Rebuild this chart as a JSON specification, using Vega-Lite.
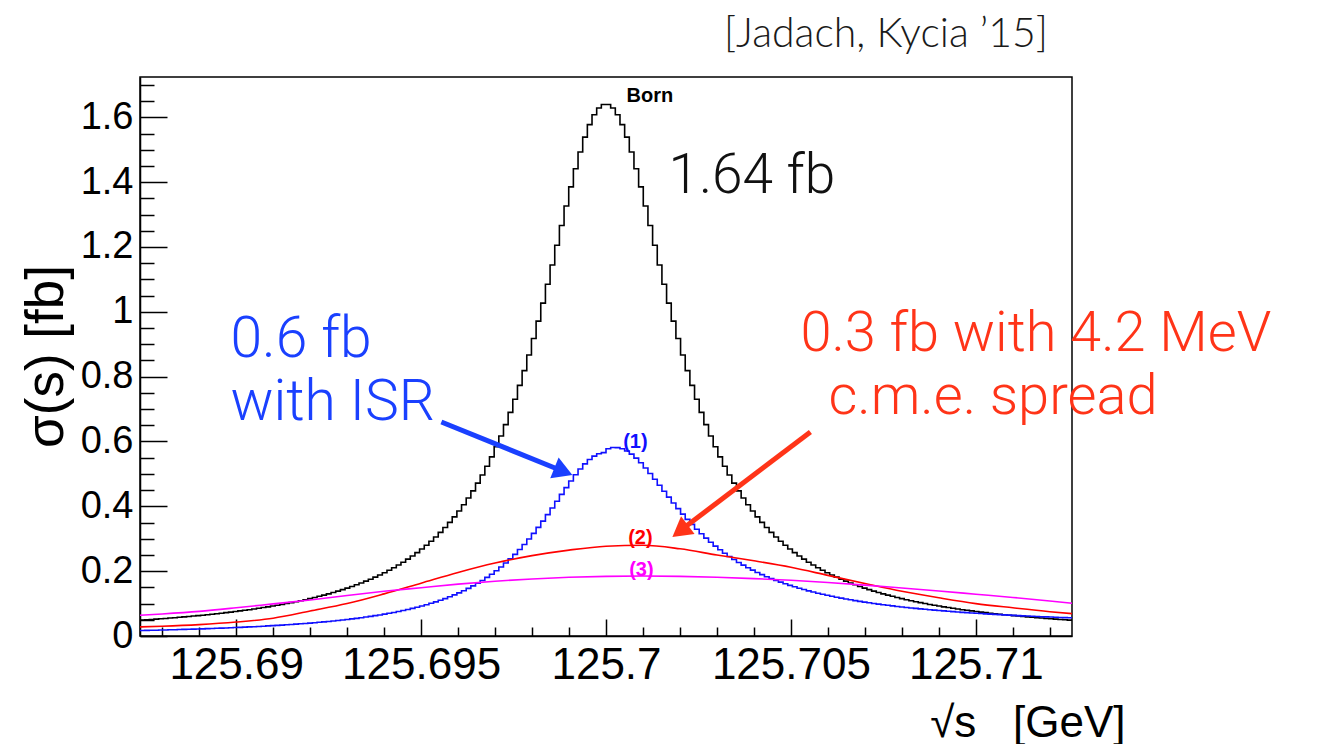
{
"$schema": "https://vega.github.io/schema/vega-lite/v6.json",
"width": 932, "height": 559,
"autosize": {"type": "none"},
"padding": {"left": 140, "top": 77, "right": 251, "bottom": 108},
"background": "white",
"title": {"text": "[Jadach, Kycia ’15]", "anchor": "end", "frame": "group", "font": "Lato", "fontSize": 41, "fontWeight": 300, "color": "#1a1a1a", "baseline": "alphabetic", "offset": 25, "dx": -24, "dy": 47},
"config": {"view": {"stroke": "black", "strokeWidth": 1.5}},
"datasets": {
"hist": [
{"x":125.6874,"b":0.0490,"i":0.0169},{"x":125.687526,"b":0.0500,"i":0.0173},{"x":125.687652,"b":0.0510,"i":0.0176},{"x":125.687778,"b":0.0520,"i":0.0179},{"x":125.687904,"b":0.0531,"i":0.0183},{"x":125.68803,"b":0.0542,"i":0.0187},{"x":125.688156,"b":0.0553,"i":0.0191},{"x":125.688282,"b":0.0565,"i":0.0195},{"x":125.688408,"b":0.0577,"i":0.0199},{"x":125.688534,"b":0.0589,"i":0.0203},
{"x":125.68866,"b":0.0602,"i":0.0208},{"x":125.688786,"b":0.0615,"i":0.0212},{"x":125.688912,"b":0.0628,"i":0.0217},{"x":125.689038,"b":0.0642,"i":0.0221},{"x":125.689164,"b":0.0657,"i":0.0227},{"x":125.68929,"b":0.0672,"i":0.0232},{"x":125.689416,"b":0.0687,"i":0.0237},{"x":125.689542,"b":0.0704,"i":0.0243},{"x":125.689668,"b":0.0720,"i":0.0248},{"x":125.689794,"b":0.0737,"i":0.0254},
{"x":125.68992,"b":0.0755,"i":0.0260},{"x":125.690046,"b":0.0774,"i":0.0267},{"x":125.690172,"b":0.0793,"i":0.0274},{"x":125.690298,"b":0.0812,"i":0.0280},{"x":125.690424,"b":0.0833,"i":0.0287},{"x":125.69055,"b":0.0854,"i":0.0295},{"x":125.690676,"b":0.0877,"i":0.0303},{"x":125.690802,"b":0.0900,"i":0.0311},{"x":125.690928,"b":0.0924,"i":0.0319},{"x":125.691054,"b":0.0948,"i":0.0327},
{"x":125.69118,"b":0.0974,"i":0.0336},{"x":125.691306,"b":0.1001,"i":0.0345},{"x":125.691432,"b":0.1029,"i":0.0355},{"x":125.691558,"b":0.1058,"i":0.0365},{"x":125.691684,"b":0.1089,"i":0.0376},{"x":125.69181,"b":0.1120,"i":0.0386},{"x":125.691936,"b":0.1153,"i":0.0398},{"x":125.692062,"b":0.1188,"i":0.0410},{"x":125.692188,"b":0.1224,"i":0.0422},{"x":125.692314,"b":0.1262,"i":0.0435},
{"x":125.69244,"b":0.1301,"i":0.0449},{"x":125.692566,"b":0.1342,"i":0.0463},{"x":125.692692,"b":0.1385,"i":0.0478},{"x":125.692818,"b":0.1431,"i":0.0494},{"x":125.692944,"b":0.1478,"i":0.0510},{"x":125.69307,"b":0.1528,"i":0.0527},{"x":125.693196,"b":0.1580,"i":0.0545},{"x":125.693322,"b":0.1634,"i":0.0564},{"x":125.693448,"b":0.1692,"i":0.0584},{"x":125.693574,"b":0.1752,"i":0.0604},
{"x":125.6937,"b":0.1816,"i":0.0627},{"x":125.693826,"b":0.1883,"i":0.0650},{"x":125.693952,"b":0.1953,"i":0.0674},{"x":125.694078,"b":0.2028,"i":0.0700},{"x":125.694204,"b":0.2106,"i":0.0727},{"x":125.69433,"b":0.2189,"i":0.0755},{"x":125.694456,"b":0.2277,"i":0.0786},{"x":125.694582,"b":0.2370,"i":0.0818},{"x":125.694708,"b":0.2468,"i":0.0851},{"x":125.694834,"b":0.2572,"i":0.0887},
{"x":125.69496,"b":0.2682,"i":0.0925},{"x":125.695086,"b":0.2799,"i":0.0966},{"x":125.695212,"b":0.2924,"i":0.1009},{"x":125.695338,"b":0.3056,"i":0.1054},{"x":125.695464,"b":0.3196,"i":0.1103},{"x":125.69559,"b":0.3346,"i":0.1154},{"x":125.695716,"b":0.3506,"i":0.1210},{"x":125.695842,"b":0.3675,"i":0.1268},{"x":125.695968,"b":0.3857,"i":0.1331},{"x":125.696094,"b":0.4050,"i":0.1397},
{"x":125.69622,"b":0.4257,"i":0.1469},{"x":125.696346,"b":0.4478,"i":0.1545},{"x":125.696472,"b":0.4715,"i":0.1627},{"x":125.696598,"b":0.4967,"i":0.1714},{"x":125.696724,"b":0.5238,"i":0.1807},{"x":125.69685,"b":0.5527,"i":0.1907},{"x":125.696976,"b":0.5837,"i":0.2014},{"x":125.697102,"b":0.6168,"i":0.2128},{"x":125.697228,"b":0.6522,"i":0.2250},{"x":125.697354,"b":0.6899,"i":0.2380},
{"x":125.69748,"b":0.7302,"i":0.2519},{"x":125.697606,"b":0.7731,"i":0.2667},{"x":125.697732,"b":0.8186,"i":0.2824},{"x":125.697858,"b":0.8669,"i":0.2991},{"x":125.697984,"b":0.9177,"i":0.3166},{"x":125.69811,"b":0.9712,"i":0.3351},{"x":125.698236,"b":1.0270,"i":0.3543},{"x":125.698362,"b":1.0849,"i":0.3743},{"x":125.698488,"b":1.1445,"i":0.3949},{"x":125.698614,"b":1.2052,"i":0.4158},
{"x":125.69874,"b":1.2662,"i":0.4368},{"x":125.698866,"b":1.3266,"i":0.4577},{"x":125.698992,"b":1.3854,"i":0.4780},{"x":125.699118,"b":1.4413,"i":0.4972},{"x":125.699244,"b":1.4929,"i":0.5151},{"x":125.69937,"b":1.5388,"i":0.5309},{"x":125.699496,"b":1.5776,"i":0.5443},{"x":125.699622,"b":1.6080,"i":0.5548},{"x":125.699748,"b":1.6290,"i":0.5620},{"x":125.699874,"b":1.6397,"i":0.5657},
{"x":125.7,"b":1.6397,"i":0.5776},{"x":125.700126,"b":1.6290,"i":0.5813},{"x":125.700252,"b":1.6080,"i":0.5812},{"x":125.700378,"b":1.5776,"i":0.5777},{"x":125.700504,"b":1.5388,"i":0.5708},{"x":125.70063,"b":1.4929,"i":0.5611},{"x":125.700756,"b":1.4413,"i":0.5487},{"x":125.700882,"b":1.3854,"i":0.5344},{"x":125.701008,"b":1.3266,"i":0.5184},{"x":125.701134,"b":1.2662,"i":0.5013},
{"x":125.70126,"b":1.2052,"i":0.4834},{"x":125.701386,"b":1.1445,"i":0.4651},{"x":125.701512,"b":1.0849,"i":0.4467},{"x":125.701638,"b":1.0270,"i":0.4284},{"x":125.701764,"b":0.9712,"i":0.4104},{"x":125.70189,"b":0.9177,"i":0.3929},{"x":125.702016,"b":0.8669,"i":0.3760},{"x":125.702142,"b":0.8186,"i":0.3598},{"x":125.702268,"b":0.7731,"i":0.3442},{"x":125.702394,"b":0.7302,"i":0.3294},
{"x":125.70252,"b":0.6899,"i":0.3153},{"x":125.702646,"b":0.6522,"i":0.3019},{"x":125.702772,"b":0.6168,"i":0.2893},{"x":125.702898,"b":0.5837,"i":0.2773},{"x":125.703024,"b":0.5527,"i":0.2660},{"x":125.70315,"b":0.5238,"i":0.2554},{"x":125.703276,"b":0.4967,"i":0.2453},{"x":125.703402,"b":0.4715,"i":0.2359},{"x":125.703528,"b":0.4478,"i":0.2269},{"x":125.703654,"b":0.4257,"i":0.2185},
{"x":125.70378,"b":0.4050,"i":0.2105},{"x":125.703906,"b":0.3857,"i":0.2031},{"x":125.704032,"b":0.3675,"i":0.1960},{"x":125.704158,"b":0.3506,"i":0.1893},{"x":125.704284,"b":0.3346,"i":0.1830},{"x":125.70441,"b":0.3196,"i":0.1770},{"x":125.704536,"b":0.3056,"i":0.1714},{"x":125.704662,"b":0.2924,"i":0.1661},{"x":125.704788,"b":0.2799,"i":0.1610},{"x":125.704914,"b":0.2682,"i":0.1562},
{"x":125.70504,"b":0.2572,"i":0.1517},{"x":125.705166,"b":0.2468,"i":0.1473},{"x":125.705292,"b":0.2370,"i":0.1433},{"x":125.705418,"b":0.2277,"i":0.1393},{"x":125.705544,"b":0.2189,"i":0.1356},{"x":125.70567,"b":0.2106,"i":0.1321},{"x":125.705796,"b":0.2028,"i":0.1288},{"x":125.705922,"b":0.1953,"i":0.1255},{"x":125.706048,"b":0.1883,"i":0.1225},{"x":125.706174,"b":0.1816,"i":0.1196},
{"x":125.7063,"b":0.1752,"i":0.1168},{"x":125.706426,"b":0.1692,"i":0.1141},{"x":125.706552,"b":0.1634,"i":0.1116},{"x":125.706678,"b":0.1580,"i":0.1092},{"x":125.706804,"b":0.1528,"i":0.1068},{"x":125.70693,"b":0.1478,"i":0.1046},{"x":125.707056,"b":0.1431,"i":0.1025},{"x":125.707182,"b":0.1385,"i":0.1003},{"x":125.707308,"b":0.1342,"i":0.0984},{"x":125.707434,"b":0.1301,"i":0.0965},
{"x":125.70756,"b":0.1262,"i":0.0947},{"x":125.707686,"b":0.1224,"i":0.0929},{"x":125.707812,"b":0.1188,"i":0.0912},{"x":125.707938,"b":0.1153,"i":0.0896},{"x":125.708064,"b":0.1120,"i":0.0880},{"x":125.70819,"b":0.1089,"i":0.0866},{"x":125.708316,"b":0.1058,"i":0.0851},{"x":125.708442,"b":0.1029,"i":0.0837},{"x":125.708568,"b":0.1001,"i":0.0823},{"x":125.708694,"b":0.0974,"i":0.0810},
{"x":125.70882,"b":0.0948,"i":0.0797},{"x":125.708946,"b":0.0924,"i":0.0786},{"x":125.709072,"b":0.0900,"i":0.0774},{"x":125.709198,"b":0.0877,"i":0.0763},{"x":125.709324,"b":0.0854,"i":0.0751},{"x":125.70945,"b":0.0833,"i":0.0741},{"x":125.709576,"b":0.0812,"i":0.0730},{"x":125.709702,"b":0.0793,"i":0.0721},{"x":125.709828,"b":0.0774,"i":0.0711},{"x":125.709954,"b":0.0755,"i":0.0701},
{"x":125.71008,"b":0.0737,"i":0.0692},{"x":125.710206,"b":0.0720,"i":0.0683},{"x":125.710332,"b":0.0704,"i":0.0675},{"x":125.710458,"b":0.0687,"i":0.0666},{"x":125.710584,"b":0.0672,"i":0.0659},{"x":125.71071,"b":0.0657,"i":0.0651},{"x":125.710836,"b":0.0642,"i":0.0643},{"x":125.710962,"b":0.0628,"i":0.0635},{"x":125.711088,"b":0.0615,"i":0.0629},{"x":125.711214,"b":0.0602,"i":0.0622},
{"x":125.71134,"b":0.0589,"i":0.0615},{"x":125.711466,"b":0.0577,"i":0.0609},{"x":125.711592,"b":0.0565,"i":0.0602},{"x":125.711718,"b":0.0553,"i":0.0595},{"x":125.711844,"b":0.0542,"i":0.0590},{"x":125.71197,"b":0.0531,"i":0.0584},{"x":125.712096,"b":0.0520,"i":0.0577},{"x":125.712222,"b":0.0510,"i":0.0572},{"x":125.712348,"b":0.0500,"i":0.0566},{"x":125.712474,"b":0.0490,"i":0.0561},
{"x":125.7126,"b":0.0490,"i":0.0561}
],
"smooth": [
{"x":125.6874,"r":0.028,"m":0.064},{"x":125.688,"r":0.030,"m":0.068},{"x":125.689,"r":0.035,"m":0.076},{"x":125.69,"r":0.043,"m":0.087},{"x":125.691,"r":0.055,"m":0.099},{"x":125.692,"r":0.077,"m":0.111},{"x":125.693,"r":0.100,"m":0.125},{"x":125.694,"r":0.130,"m":0.138},{"x":125.695,"r":0.163,"m":0.149},{"x":125.696,"r":0.196,"m":0.160},{"x":125.697,"r":0.225,"m":0.169},{"x":125.698,"r":0.248,"m":0.176},{"x":125.699,"r":0.265,"m":0.181},{"x":125.7,"r":0.277,"m":0.184},{"x":125.701,"r":0.280,"m":0.185},{"x":125.702,"r":0.269,"m":0.184},{"x":125.703,"r":0.250,"m":0.181},{"x":125.704,"r":0.232,"m":0.177},{"x":125.705,"r":0.212,"m":0.172},{"x":125.706,"r":0.187,"m":0.165},{"x":125.707,"r":0.162,"m":0.157},{"x":125.708,"r":0.138,"m":0.148},{"x":125.709,"r":0.118,"m":0.139},{"x":125.71,"r":0.100,"m":0.129},{"x":125.711,"r":0.087,"m":0.119},{"x":125.712,"r":0.075,"m":0.108},{"x":125.7126,"r":0.069,"m":0.101}
],
"labels": [
{"x":125.701187,"y":1.6656,"t":"Born","s":"b"},{"x":125.700795,"y":0.5984,"t":"(1)","s":"i"},{"x":125.70093,"y":0.3023,"t":"(2)","s":"r"},{"x":125.700957,"y":0.2036,"t":"(3)","s":"m"}
]
},
"encoding": {
"x": {"field": "x", "type": "quantitative",
 "scale": {"domain": [125.6874, 125.7126], "nice": false, "zero": false},
 "axis": {
  "values": [125.688,125.689,125.69,125.691,125.692,125.693,125.694,125.695,125.696,125.697,125.698,125.699,125.7,125.701,125.702,125.703,125.704,125.705,125.706,125.707,125.708,125.709,125.71,125.711,125.712],
  "labelExpr": "round(datum.value*1000) % 5 === 0 ? format(datum.value, '~g') : ''",
  "tickSize": {"condition": {"test": "round(datum.value*1000) % 5 === 0", "value": -17}, "value": -9},
  "labelPadding": 24,
  "labelFont": "Liberation Sans", "labelFontSize": 44, "labelColor": "black",
  "labelFlush": false, "labelOverlap": false, "labelBound": false,
  "domainColor": "black", "domainWidth": 1.5, "tickColor": "black", "tickWidth": 1.5,
  "grid": false,
  "title": "√s\u00a0\u00a0\u00a0[GeV]", "titleFont": "Liberation Sans", "titleFontSize": 44, "titleFontWeight": "normal", "titleColor": "black",
  "titleX": 985, "titleY": 100, "titleAlign": "right", "titleBaseline": "alphabetic", "titleAngle": 0
 }},
"y": {"field": "y", "type": "quantitative",
 "scale": {"domain": [0, 1.7244], "nice": false, "zero": false},
 "axis": {
  "values": [0,0.05,0.1,0.15,0.2,0.25,0.3,0.35,0.4,0.45,0.5,0.55,0.6,0.65,0.7,0.75,0.8,0.85,0.9,0.95,1,1.05,1.1,1.15,1.2,1.25,1.3,1.35,1.4,1.45,1.5,1.55,1.6,1.65,1.7],
  "labelExpr": "round(datum.value*100) % 20 === 0 ? format(datum.value, '~g') : ''",
  "tickSize": {"condition": {"test": "round(datum.value*100) % 20 === 0", "value": -27}, "value": -14},
  "labelPadding": 34,
  "labelFont": "Liberation Sans", "labelFontSize": 38, "labelColor": "black",
  "labelFlush": false, "labelOverlap": false, "labelBound": false,
  "domainColor": "black", "domainWidth": 1.5, "tickColor": "black", "tickWidth": 1.5,
  "grid": false,
  "title": "σ(s) [fb]", "titleFont": "Liberation Sans", "titleFontSize": 53, "titleFontWeight": "normal", "titleColor": "black",
  "titleX": -78, "titleY": 279, "titleAngle": -90, "titleAlign": "center", "titleBaseline": "alphabetic"
 }}
},
"layer": [
{"data": {"name": "hist"},
 "transform": [{"fold": ["b", "i"], "as": ["s", "y"]}],
 "mark": {"type": "line", "interpolate": "step-after", "strokeWidth": 1.6},
 "encoding": {"color": {"field": "s", "type": "nominal", "scale": {"domain": ["b", "i", "r", "m"], "range": ["#000000", "#1010ff", "#ff0000", "#ff00ff"]}, "legend": null}}},
{"data": {"name": "smooth"},
 "transform": [{"fold": ["r", "m"], "as": ["s", "y"]}],
 "mark": {"type": "line", "interpolate": "monotone", "strokeWidth": 1.6},
 "encoding": {"color": {"field": "s", "type": "nominal", "scale": {"domain": ["b", "i", "r", "m"], "range": ["#000000", "#1010ff", "#ff0000", "#ff00ff"]}, "legend": null}}},
{"data": {"name": "labels"},
 "mark": {"type": "text", "font": "Liberation Sans", "fontWeight": "bold", "fontSize": 20, "align": "center", "baseline": "middle"},
 "encoding": {"text": {"field": "t"}, "color": {"field": "s", "type": "nominal", "scale": {"domain": ["b", "i", "r", "m"], "range": ["#000000", "#1010ff", "#ff0000", "#ff00ff"]}, "legend": null}}},
{"data": {"values": [{"x": 125.695549, "y": 0.6601, "x2": 125.698686, "y2": 0.5151}]},
 "mark": {"type": "rule", "color": "#1a40ff", "strokeWidth": 5},
 "encoding": {"x2": {"field": "x2"}, "y2": {"field": "y2"}}},
{"data": {"values": [{"x": 125.698848, "y": 0.5077}]},
 "mark": {"type": "point", "shape": "triangle-up", "angle": 112, "filled": true, "size": 500, "color": "#1a40ff", "opacity": 1},
 "encoding": {}},
{"data": {"values": [{"x": 125.705527, "y": 0.6292, "x2": 125.70212, "y2": 0.3347}]},
 "mark": {"type": "rule", "color": "#ff3418", "strokeWidth": 5},
 "encoding": {"x2": {"field": "x2"}, "y2": {"field": "y2"}}},
{"data": {"values": [{"x": 125.702004, "y": 0.3236}]},
 "mark": {"type": "point", "shape": "triangle-up", "angle": 232.7, "filled": true, "size": 500, "color": "#ff3418", "opacity": 1},
 "encoding": {}},
{"data": {"values": [{"x": 125.701687, "y": 1.3664, "t": "1.64 fb"}]},
 "mark": {"type": "text", "font": "Roboto", "fontWeight": 300, "fontSize": 55, "align": "left", "baseline": "alphabetic", "color": "#111111"},
 "encoding": {"text": {"field": "t"}}},
{"data": {"values": [{"x": 125.689844, "y": 0.8606, "t": "0.6 fb"}, {"x": 125.689844, "y": 0.6663, "t": "with ISR"}]},
 "mark": {"type": "text", "font": "Roboto", "fontWeight": 300, "fontSize": 57, "align": "left", "baseline": "alphabetic", "color": "#1a40ff"},
 "encoding": {"text": {"field": "t"}}},
{"data": {"values": [{"x": 125.705256, "y": 0.8790, "t": "0.3 fb with 4.2 MeV"}, {"x": 125.706013, "y": 0.6848, "t": "c.m.e. spread"}]},
 "mark": {"type": "text", "font": "Roboto", "fontWeight": 300, "fontSize": 56, "align": "left", "baseline": "alphabetic", "color": "#ff3418"},
 "encoding": {"text": {"field": "t"}}}
]
}
